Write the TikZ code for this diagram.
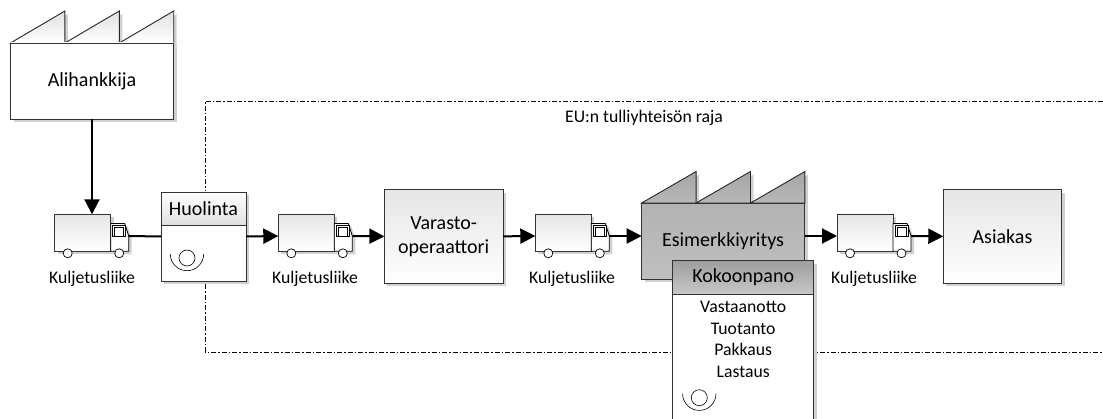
\documentclass[tikz,border=0pt]{standalone}
\usepackage{fontspec}
\setmainfont{Carlito}
\usetikzlibrary{arrows.meta,shadows}
\tikzset{
  shade1/.style={drop shadow={shadow xshift=3pt,shadow yshift=-3pt,fill=black!18,opacity=1}},
  boxnode/.style={draw=black!80,line width=.9pt,inner sep=0pt,outer sep=0pt,rectangle,shade1,top color=black!10,bottom color=white,font=\fontsize{20}{24}\selectfont,align=center},
  whitebox/.style={boxnode,top color=white,bottom color=white},
  headnode/.style={draw=black!80,line width=.9pt,inner sep=0pt,outer sep=0pt,rectangle,font=\fontsize{20}{24}\selectfont},
  smalltext/.style={font=\fontsize{17.7}{21.7}\selectfont,inner sep=0pt},
  flow/.style={line width=2pt,-{Triangle[length=15pt,width=15pt]}},
  flowline/.style={line width=2pt},
  boundary/.style={line width=.6pt,dash pattern=on 5pt off 2pt on 1.5pt off 2pt}
}
% lorry: name, left edge
\newcommand{\lorry}[2]{
  \node[boxnode,minimum width=56pt,minimum height=37pt] (#1) at (#2+28,232.8) {};
  \draw[line width=.8pt,fill=white,shade1] (#2+56,223.5) -- (#2+70,223.5) -- (#2+74,236) -- (#2+74,251.3) -- (#2+56,251.3) -- cycle;
  \draw[line width=1pt,fill=white] (#2+58,225.5) rectangle (#2+71,236.5);
  \draw[line width=.6pt] (#2+60,227.5) rectangle (#2+69,236.5);
  \node[circle,draw,fill=white,line width=.7pt,minimum size=9pt,inner sep=0pt] (#1w) at (#2+13,253.3) {};
  \node[circle,draw,fill=white,line width=.7pt,minimum size=9pt,inner sep=0pt] (#1v) at (#2+64.5,253.3) {};
  \coordinate (#1cab) at (#2+74,236);
  \coordinate (#1in) at (#2,236);
}
% factory teeth: left edge, tooth width, base, top, colours
\newcommand{\teeth}[6]{
  \foreach \i in {0,1,2}
    \draw[line width=.9pt,draw=black!85,shade1,top color=#5,bottom color=#6] (#1+\i*#2,#3) -- (#1+\i*#2+#2,#4) -- (#1+\i*#2+#2,#3) -- cycle;
}
% icon under the stamp
\newcommand{\stamp}[2]{
  \draw[line width=.6pt] (#1,#2+4) circle[radius=8pt];
  \draw[line width=.6pt] (#1-16.7,#2) arc[start angle=180,end angle=360,radius=16.7pt];
}
\begin{document}
\begin{tikzpicture}[x=1pt,y=-1pt]
  \useasboundingbox (0,0) rectangle (1103,419);
  \coordinate (rajaa) at (1103,101);
  \coordinate (rajab) at (205,101);
  \coordinate (rajac) at (205,352);
  \coordinate (rajad) at (1103,352);
  \draw[boundary] (rajaa) -- (rajab) -- (rajac) -- (rajad);
  \node[smalltext] (raja) at (644,118) {EU:n tulliyhteisön raja};
  % alihankkija
  \teeth{10.5}{54.4}{43}{11}{black!12}{white}
  \node[whitebox,minimum width=163pt,minimum height=76pt] (alihankkija) at (92,81) {Alihankkija};
  % lorries
  \lorry{kuljetus1}{54.7}
  \lorry{kuljetus2}{278.3}
  \lorry{kuljetus3}{535.3}
  \lorry{kuljetus4}{837}
  \node[smalltext] (teksti1) at (92,279) {Kuljetusliike};
  \node[smalltext] (teksti2) at (315,279) {Kuljetusliike};
  \node[smalltext] (teksti3) at (572,279) {Kuljetusliike};
  \node[smalltext] (teksti4) at (874,279) {Kuljetusliike};
  % huolinta
  \node[whitebox,minimum width=85pt,minimum height=89pt] (huolinta) at (203.5,236.5) {};
  \node[headnode,top color=white,bottom color=black!12,minimum width=85pt,minimum height=33pt] (huolintaotsikko) at (203.5,208.5) {Huolinta};
  \stamp{187}{254}
  % varasto ja asiakas
  \node[boxnode,minimum width=118.7pt,minimum height=93.3pt] (varasto) at (443.7,236.35) {Varasto-\\operaattori};
  \node[boxnode,minimum width=118.4pt,minimum height=93.3pt] (asiakas) at (1002.5,236.35) {Asiakas};
  % esimerkkiyritys
  \teeth{641.7}{54.4}{203}{171.5}{black!35}{black!28}
  \node[boxnode,top color=black!30,bottom color=black!25,minimum width=163pt,minimum height=76.3pt] (esimerkki) at (723.2,241.2) {};
  \node[inner sep=0pt,font=\fontsize{20}{24}\selectfont] (esimerkkiteksti) at (723,241) {Esimerkkiyritys};
  \coordinate (esimerkkiin) at (641.7,236);
  \coordinate (esimerkkiout) at (804.7,236);
  % kokoonpano
  \node[whitebox,minimum width=141pt,minimum height=170pt,anchor=north] (kokoonpano) at (743.2,260.7) {};
  \node[headnode,top color=black!38,bottom color=black!22,minimum width=141pt,minimum height=33.3pt] (kokoonpanootsikko) at (743.2,277.4) {Kokoonpano};
  \node[smalltext,align=center,anchor=north] (vaiheet) at (743.2,301) {Vastaanotto\\Tuotanto\\Pakkaus\\Lastaus};
  \stamp{699.3}{393.7}
  % connectors
  \draw[flow] (alihankkija.south) -- (alihankkija.south |- kuljetus1.north);
  \draw[flowline] (kuljetus1cab) -- (huolinta.west);
  \draw[flow] (huolinta.east) -- (kuljetus2in);
  \draw[flow] (kuljetus2cab) -- (varasto.west);
  \draw[flow] (varasto.east) -- (kuljetus3in);
  \draw[flow] (kuljetus3cab) -- (esimerkkiin);
  \draw[flow] (esimerkkiout) -- (kuljetus4in);
  \draw[flow] (kuljetus4cab) -- (asiakas.west);
\end{tikzpicture}
\end{document}
